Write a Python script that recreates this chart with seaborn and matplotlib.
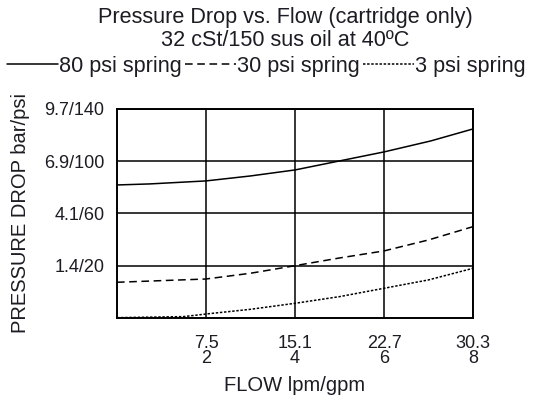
# Pressure Drop vs. Flow (cartridge only) - recreated with seaborn

import pandas as pd
import numpy as np
import seaborn as sns
import matplotlib.pyplot as plt

# Data (flow in gpm, pressure drop in psi)

flow_80 = [0, 0.74, 2, 3, 4, 5, 6, 7.05, 8]
drop_80 = [81.8, 82.6, 84.9, 88.7, 93.3, 100.2, 107.1, 115.5, 124.7]

flow_30 = [0, 2, 3, 4, 5, 6, 7, 8]
drop_30 = [7.3, 9.8, 14.2, 20.0, 25.9, 31.3, 39.7, 49.9]

flow_3 = [0, 1.5, 2, 3, 4, 5, 6, 7, 8]
drop_3 = [-19.8, -19.0, -17.0, -13.4, -8.8, -3.7, 2.7, 9.1, 18.0]

series_names = ["80 psi spring", "30 psi spring", "3 psi spring"]

x_ticks = [2, 4, 6, 8]
x_tick_labels = ["7.5\n2", "15.1\n4", "22.7\n6", "30.3\n8"]
y_ticks = [20, 60, 100, 140]
y_tick_labels = ["1.4/20", "4.1/60", "6.9/100", "9.7/140"]

df = pd.concat([
    pd.DataFrame({"flow": flow_80, "drop": drop_80, "spring": series_names[0]}),
    pd.DataFrame({"flow": flow_30, "drop": drop_30, "spring": series_names[1]}),
    pd.DataFrame({"flow": flow_3, "drop": drop_3, "spring": series_names[2]}),
])

sns.set_theme(style="white")
plt.rcParams["font.family"] = ["Liberation Sans", "DejaVu Sans"]
text_color = "#1c1c24"

fig = plt.figure(figsize=(5.33, 4.05), dpi=100)
ax = fig.add_axes([0.2195, 0.215, 0.668, 0.516])

styles = {
    series_names[0]: "-",
    series_names[1]: (0, (5, 3)),
    series_names[2]: (0, (1.6, 1.1)),
}

for name in series_names:
    sns.lineplot(data=df[df["spring"] == name], x="flow", y="drop",
                 color="black", linewidth=1.1, linestyle=styles[name],
                 label=name, ax=ax, legend=False)

ax.set_xlim(0, 8)
ax.set_ylim(-20, 140)
ax.set_xticks(x_ticks)
ax.set_xticklabels(x_tick_labels, fontsize=13, color=text_color, linespacing=0.85)
ax.set_yticks(y_ticks)
ax.set_yticklabels(y_tick_labels, fontsize=13, color=text_color)
ax.tick_params(axis="x", length=0, pad=12)
ax.tick_params(axis="y", length=0, pad=9)
ax.grid(True, color="black", linewidth=1.1)

for side in ax.spines.values():
    side.set_color("black")
    side.set_linewidth(1.4)

ax.set_xlabel("FLOW lpm/gpm", fontsize=14.5, color=text_color, labelpad=7)
ax.set_ylabel("PRESSURE DROP bar/psi", fontsize=14.5, color=text_color)
ax.yaxis.set_label_coords(-0.245, 0.5)

fig.text(0.535, 0.957, "Pressure Drop vs. Flow (cartridge only)",
         ha="center", va="center", fontsize=15.6, color=text_color)
fig.text(0.535, 0.900, "32 cSt/150 sus oil at 40ºC",
         ha="center", va="center", fontsize=15.6, color=text_color)

handles, labels = ax.get_legend_handles_labels()
fig.legend(handles, labels, loc="center", bbox_to_anchor=(0.5, 0.837), ncol=3,
           frameon=False, fontsize=15.6, handlelength=2.35, handletextpad=0.05,
           columnspacing=0.15, borderaxespad=0, borderpad=0,
           labelcolor=text_color)

plt.savefig("out.png", dpi=100)
